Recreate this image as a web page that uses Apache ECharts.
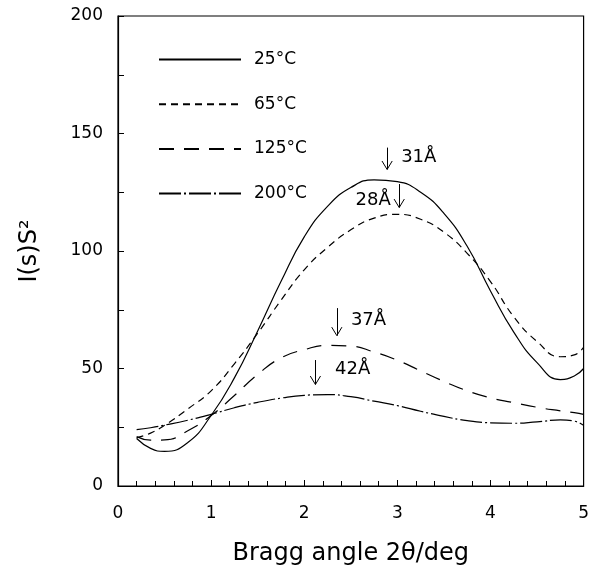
<!DOCTYPE html>
<html>
<head>
<meta charset="utf-8">
<script src="https://cdn.jsdelivr.net/npm/echarts@6/dist/echarts.min.js"></script>
<style>
html,body{margin:0;padding:0;background:#fff;}
#chart{width:592px;height:571px;}
</style>
</head>
<body>
<div id="chart"></div>
<script>
// ---- data ----
const angle = [0.2, 0.35, 0.5, 0.75, 1.0, 1.25, 1.5, 1.75, 2.0, 2.25, 2.5, 2.75, 3.0, 3.25, 3.5, 3.75, 4.0, 4.25, 4.5, 4.75, 4.9, 5.0];
const t25  = [20.2, 16.0, 14.7, 18.5, 30.0, 46.0, 66.0, 87.0, 106.0, 119.0, 127.0, 130.3, 129.5, 125.0, 116.0, 102.0, 83.0, 65.5, 52.5, 45.3, 46.8, 50.0];
const t65  = [20.5, 22.5, 25.8, 32.8, 40.5, 52.0, 65.0, 79.0, 92.0, 101.5, 109.0, 114.0, 115.6, 113.5, 108.0, 99.0, 87.0, 72.0, 61.5, 55.0, 55.8, 59.0];
const t125 = [21.0, 19.5, 19.6, 23.5, 30.0, 38.5, 47.5, 54.5, 58.0, 59.8, 59.5, 57.0, 53.5, 49.0, 44.5, 40.5, 37.5, 35.5, 33.5, 32.0, 31.2, 30.5];
const t200 = [24.0, 24.8, 25.9, 28.0, 30.5, 33.3, 35.6, 37.4, 38.6, 38.9, 38.0, 36.1, 34.2, 31.8, 29.6, 27.8, 26.9, 26.7, 27.3, 28.1, 27.6, 25.8];
const seriesNames = ['25°C', '65°C', '125°C', '200°C'];
const yTicks = [0, 50, 100, 150, 200];
const xTicks = [0, 1, 2, 3, 4, 5];
// annotations: spacing labels and arrows (data coordinates)
const annoText   = ['31Å', '28Å', '37Å', '42Å'];
const annoTextX  = [3.23, 2.74, 2.69, 2.52];
const annoTextY  = [139.7, 121.4, 70.3, 49.5];
const arrowX     = [2.89, 3.02, 2.35, 2.12];
const arrowTop   = [144.0, 128.5, 75.7, 53.6];
const arrowBottom= [134.7, 118.5, 64.0, 43.2];

const FONT = 'DejaVu Sans';
const dashes = ['solid', [7, 5], [15, 10], [22, 3, 2, 3]];
const allData = [t25, t65, t125, t200];

const chart = echarts.init(document.getElementById('chart'), null, {renderer: 'canvas'});

const series = allData.map((arr, i) => ({
  name: seriesNames[i],
  type: 'line',
  smooth: 0.5,
  showSymbol: false,
  symbol: 'none',
  data: angle.map((x, j) => [x, arr[j]]),
  lineStyle: {color: '#000', width: 1.2, type: dashes[i]},
  itemStyle: {color: '#000'},
  z: 3
}));

// text annotations
series[0].markPoint = {
  symbol: 'circle', symbolSize: 0, silent: true,
  itemStyle: {color: 'transparent'},
  label: {show: true, position: 'inside', fontSize: 18, fontFamily: FONT, color: '#000'},
  data: annoText.map((t, i) => ({coord: [annoTextX[i], annoTextY[i]], label: {formatter: t}}))
};
// arrows: shaft plus open V head
const headDX = 0.055, headDY = 3.6;
const arrowLines = [];
arrowX.forEach((x, i) => {
  const b = arrowBottom[i];
  arrowLines.push([{coord: [x, arrowTop[i]]}, {coord: [x, b]}]);
  arrowLines.push([{coord: [x - headDX, b + headDY]}, {coord: [x, b]}]);
  arrowLines.push([{coord: [x + headDX, b + headDY]}, {coord: [x, b]}]);
});
series[1].markLine = {
  symbol: ['none', 'none'], silent: true, animation: false,
  label: {show: false},
  lineStyle: {color: '#000', width: 1, type: 'solid'},
  emphasis: {disabled: true},
  data: arrowLines
};

chart.setOption({
  animation: false,
  backgroundColor: '#fff',
  grid: {left: 118, right: 6, top: 16, bottom: 74, show: true, borderColor: '#000', borderWidth: 1.2, backgroundColor: 'transparent'},
  legend: {
    orient: 'vertical', left: 153, top: 46, itemWidth: 82, itemHeight: 14, itemGap: 27.7,
    data: seriesNames,
    itemStyle: {color: 'transparent', borderColor: 'transparent', borderWidth: 0, opacity: 0},
    textStyle: {fontFamily: FONT, fontSize: 17, color: '#000', padding: [0, 0, 0, 8]}
  },
  xAxis: {
    type: 'value', min: 0, max: 5, interval: 1,
    name: 'Bragg angle 2θ/deg', nameLocation: 'middle', nameGap: 56,
    nameTextStyle: {fontFamily: FONT, fontSize: 24, color: '#000'},
    axisLine: {show: true, lineStyle: {color: '#000', width: 1.2}},
    axisTick: {show: true, inside: true, length: 6, lineStyle: {color: '#000'}},
    minorTick: {show: true, splitNumber: 5, length: 5, lineStyle: {color: '#000'}},
    splitLine: {show: false},
    axisLabel: {fontFamily: FONT, fontSize: 17, color: '#000', margin: 19,
      formatter: v => xTicks.includes(v) ? String(v) : ''}
  },
  yAxis: {
    type: 'value', min: 0, max: 200, interval: 50,
    name: 'I(s)S²', nameLocation: 'middle', nameGap: 76, nameRotate: 90,
    nameTextStyle: {fontFamily: FONT, fontSize: 24, color: '#000'},
    axisLine: {show: true, lineStyle: {color: '#000', width: 1.2}},
    axisTick: {show: true, inside: true, length: 6, lineStyle: {color: '#000'}},
    minorTick: {show: true, splitNumber: 2, length: 6, lineStyle: {color: '#000'}},
    splitLine: {show: false},
    axisLabel: {fontFamily: FONT, fontSize: 17, color: '#000', margin: 15,
      formatter: v => yTicks.includes(v) ? String(v) : ''}
  },
  series: series
});
</script>
</body>
</html>
